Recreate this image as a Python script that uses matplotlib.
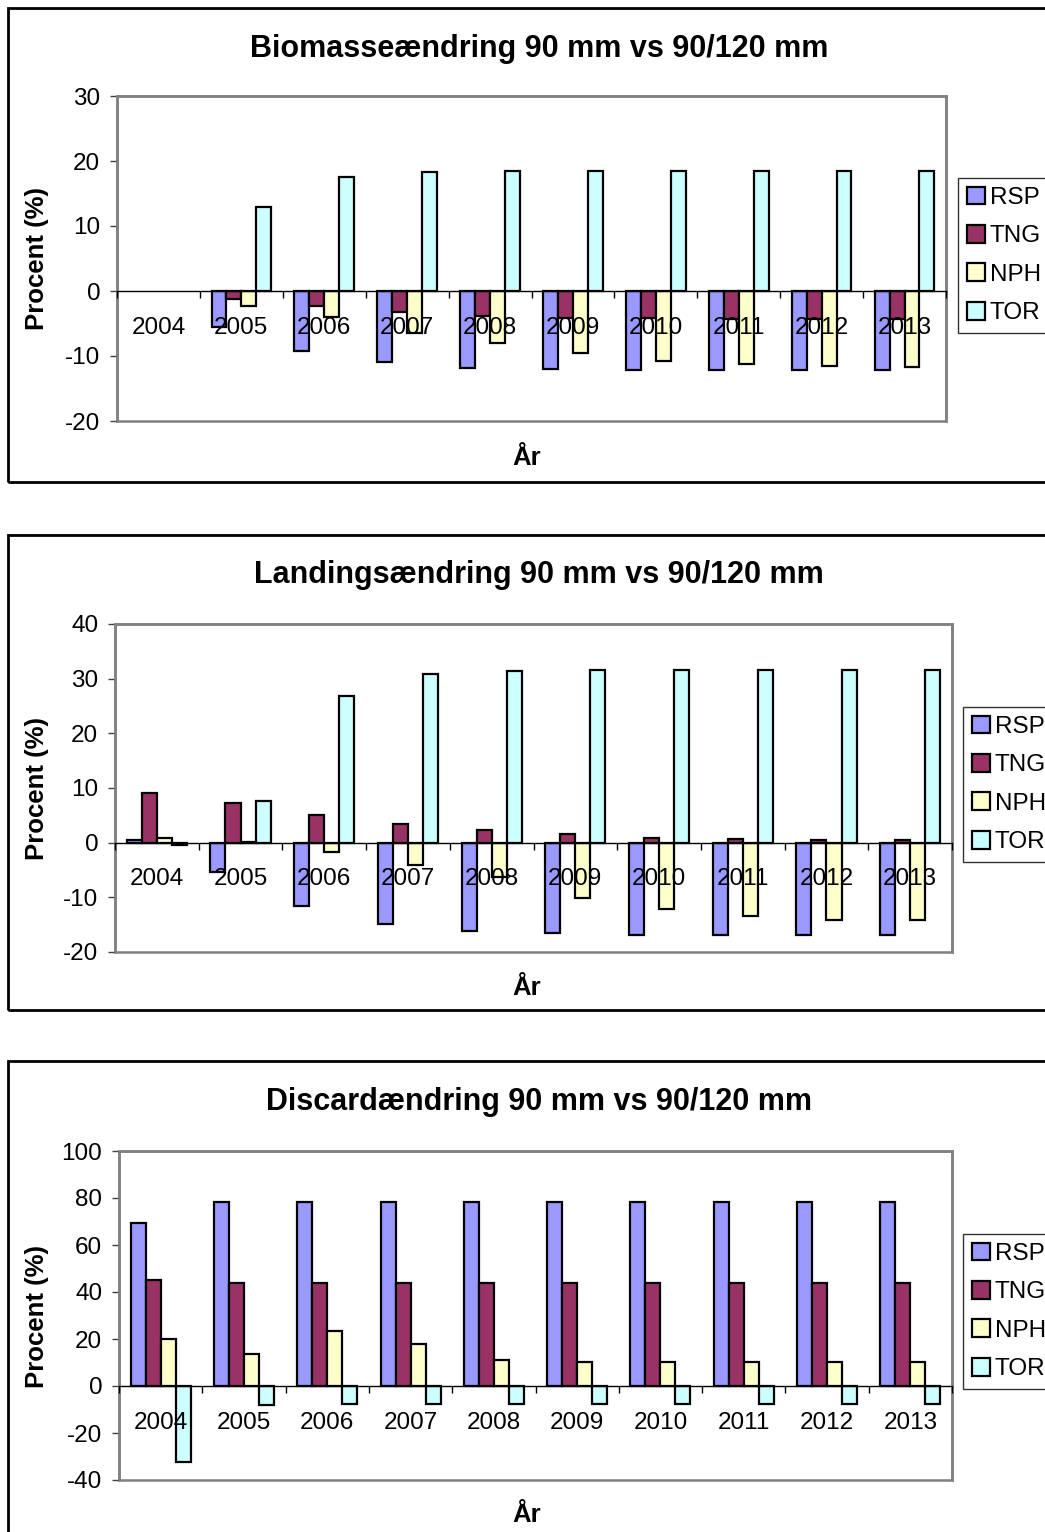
import matplotlib
matplotlib.use('Agg')
import matplotlib.pyplot as plt
from matplotlib.patches import Rectangle
import numpy as np

plt.rcParams['font.family'] = ['Liberation Sans', 'DejaVu Sans']
plt.rcParams['axes.unicode_minus'] = False

years = ['2004', '2005', '2006', '2007', '2008', '2009', '2010', '2011', '2012', '2013']
series = ['RSP', 'TNG', 'NPH', 'TOR']
colors = ['#9999FF', '#993366', '#FFFFCC', '#CCFFFF']

# Biomasse (2004 blank)
bio_rsp = [np.nan, -5.6, -9.3, -11.0, -11.8, -12.0, -12.2, -12.2, -12.2, -12.2]
bio_tng = [np.nan, -1.2, -2.3, -3.3, -3.8, -4.1, -4.2, -4.3, -4.3, -4.3]
bio_nph = [np.nan, -2.3, -4.0, -6.4, -8.0, -9.6, -10.7, -11.2, -11.6, -11.7]
bio_tor = [np.nan, 13.0, 17.5, 18.3, 18.5, 18.4, 18.4, 18.4, 18.4, 18.4]

# Landing
lan_rsp = [0.5, -5.3, -11.5, -14.8, -16.1, -16.6, -16.8, -16.8, -16.8, -16.9]
lan_tng = [9.0, 7.3, 5.1, 3.5, 2.3, 1.5, 0.9, 0.7, 0.5, 0.4]
lan_nph = [0.9, 0.2, -1.7, -4.1, -6.2, -10.1, -12.1, -13.5, -14.1, -14.2]
lan_tor = [-0.4, 7.6, 26.9, 30.9, 31.4, 31.5, 31.5, 31.5, 31.5, 31.5]

# Discard
dis_rsp = [69.5, 78.2, 78.2, 78.2, 78.2, 78.2, 78.2, 78.2, 78.2, 78.2]
dis_tng = [45.0, 44.0, 43.7, 43.7, 43.7, 43.7, 43.7, 43.7, 43.7, 43.7]
dis_nph = [20.0, 13.5, 23.4, 17.9, 11.1, 10.4, 10.4, 10.4, 10.4, 10.4]
dis_tor = [-32.2, -8.1, -7.5, -7.5, -7.5, -7.5, -7.5, -7.5, -7.5, -7.5]

W, H = 1045, 1532


def fx(px):
    return px / W


def fy(py):
    return 1 - py / H


def draw_panel(fig, box, frame, title, title_y, data, ylim, yticks, legend_xy, ylabel_y, xlabel_y):
    left, top, right, bottom = box
    ax = fig.add_axes([fx(left), fy(bottom), (right - left) / W, (bottom - top) / H])

    # outer chart frame
    fig.add_artist(Rectangle((fx(8), fy(frame[1])), 1.2, (frame[1] - frame[0]) / H,
                             transform=fig.transFigure, fill=False,
                             edgecolor='black', lw=2.0))

    x = np.arange(len(years))
    w = 0.18
    for i, (vals, name, c) in enumerate(zip(data, series, colors)):
        ax.bar(x + (i - 1.5) * w, vals, width=w, color=c, edgecolor='black',
               linewidth=1.6, label=name, zorder=2)

    ax.set_xlim(-0.5, len(years) - 0.5)
    ax.set_ylim(*ylim)
    ax.set_yticks(yticks)
    ax.tick_params(axis='y', labelsize=17.5, length=5, width=1, color='#404040',
                   direction='out', pad=7)

    # category axis at zero, labels drawn over the bars
    ax.spines['bottom'].set_position(('data', 0))
    ax.spines['bottom'].set_color('black')
    ax.spines['bottom'].set_linewidth(1.0)
    ax.spines['bottom'].set_zorder(4)
    ax.xaxis.set_zorder(5)
    ax.set_xticks(np.arange(-0.5, len(years), 1.0))
    ax.set_xticklabels([])
    ax.set_xticks(x, minor=True)
    ax.set_xticklabels(years, minor=True)
    ax.tick_params(axis='x', which='major', length=5, width=1, direction='out', color='black')
    ax.tick_params(axis='x', which='minor', length=0, labelsize=17.5, pad=18.5)

    for s in ['top', 'right', 'left']:
        ax.spines[s].set_color('#808080')
        ax.spines[s].set_linewidth(1.8)
    ax.add_patch(Rectangle((0, 0), 1, 1, transform=ax.transAxes, fill=False,
                           edgecolor='#808080', lw=1.8, clip_on=False, zorder=1))

    fig.text(fx(539), fy(title_y), title, ha='center', va='center',
             fontsize=22, fontweight='bold')
    fig.text(fx(37), fy(ylabel_y), 'Procent (%)', rotation=90, ha='center', va='center',
             fontsize=18.5, fontweight='bold')
    fig.text(fx(527), fy(xlabel_y), 'År', ha='center', va='center',
             fontsize=18.5, fontweight='bold')

    leg = ax.legend(loc='upper left', bbox_to_anchor=(fx(legend_xy[0]), fy(legend_xy[1])),
                    bbox_transform=fig.transFigure, fontsize=17.5, frameon=True,
                    fancybox=False, edgecolor='black', borderaxespad=0,
                    handlelength=0.75, handleheight=0.75, handletextpad=0.2,
                    labelspacing=0.66, borderpad=0.35)
    leg.get_frame().set_linewidth(1.0)
    return ax


def main():
    fig = plt.figure(figsize=(W / 100, H / 100), dpi=100)

    draw_panel(fig, (117, 96, 946, 421), (8, 482),
               'Biomasseændring 90 mm vs 90/120 mm', 49,
               [bio_rsp, bio_tng, bio_nph, bio_tor], (-20, 30), [-20, -10, 0, 10, 20, 30],
               (958, 178), 258, 458)

    draw_panel(fig, (115, 624, 952, 952), (535, 1010),
               'Landingsændring 90 mm vs 90/120 mm', 575,
               [lan_rsp, lan_tng, lan_nph, lan_tor], (-20, 40), [-20, -10, 0, 10, 20, 30, 40],
               (963, 707), 788, 988)

    draw_panel(fig, (119, 1151, 952, 1480), (1061, 1600),
               'Discardændring 90 mm vs 90/120 mm', 1102,
               [dis_rsp, dis_tng, dis_nph, dis_tor], (-40, 100), [-40, -20, 0, 20, 40, 60, 80, 100],
               (963, 1234), 1316, 1515)

    plt.savefig('out.png', dpi=100)


if __name__ == '__main__':
    main()
